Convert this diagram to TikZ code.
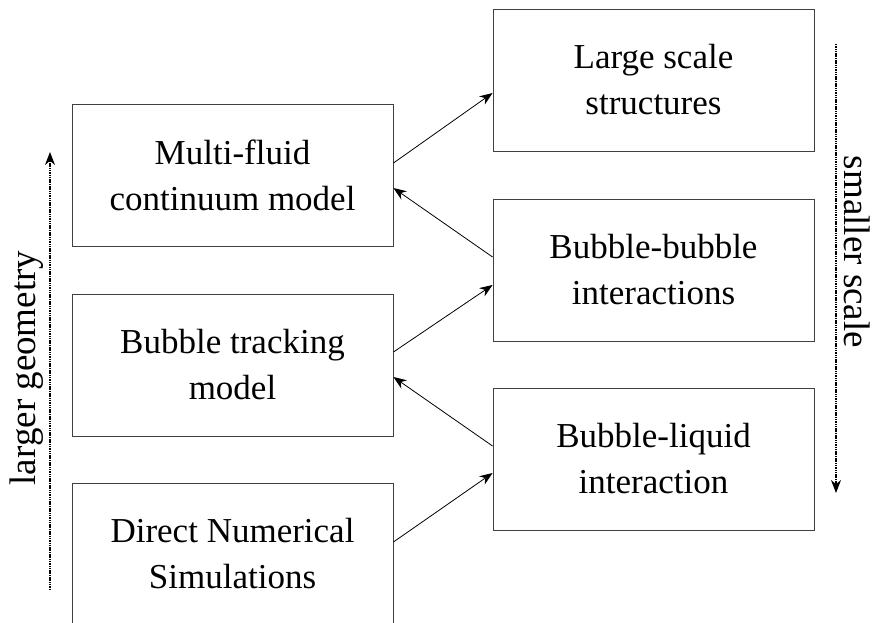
\documentclass[tikz,border=0pt]{standalone}
\usepackage{fontspec}
\setmainfont{Liberation Serif}
\usetikzlibrary{arrows.meta}
\begin{document}
\begin{tikzpicture}[x=1pt,y=-1pt,
  box/.style={draw=black!75,line width=0.9pt,minimum width=321pt,minimum height=142pt,
    align=center,inner sep=0pt,font=\fontsize{35}{46}\selectfont},
  conn/.style={line width=0.8pt,-{Stealth[length=13pt,width=10pt]}},
  side/.style={line width=1.1pt,dash pattern=on 1.5pt off 0.8pt,-{Stealth[length=13pt,width=10pt]}},
  sidelabel/.style={font=\fontsize{37}{44}\selectfont,inner sep=0pt}]
\useasboundingbox (0,0) rectangle (875,623);
\node[box] (mf) at (232.5,175) {Multi-fluid\\continuum model};
\node[box] (bt) at (232.5,365) {Bubble tracking\\model};
\node[box] (dns) at (232.5,554) {Direct Numerical\\Simulations};
\node[box] (ls) at (653.5,80) {Large scale\\structures};
\node[box] (bb) at (653.5,270) {Bubble-bubble\\interactions};
\node[box] (bl) at (653.5,459) {Bubble-liquid\\interaction};
\draw[conn] ([yshift=12pt]mf.east) -- ([yshift=-13pt]ls.west);
\draw[conn] ([yshift=13pt]bb.west) -- ([yshift=-13pt]mf.east);
\draw[conn] ([yshift=13pt]bt.east) -- ([yshift=-15pt]bb.west);
\draw[conn] ([yshift=13pt]bl.west) -- ([yshift=-12pt]bt.east);
\draw[conn] ([yshift=12pt]dns.east) -- ([yshift=-14pt]bl.west);
\coordinate (lb) at (50,590);
\coordinate (lt) at (50,152);
\draw[side] (lb) -- (lt);
\node[sidelabel,rotate=90] (lg) at (27,368) {larger geometry};
\coordinate (rt) at (836,44);
\coordinate (rb) at (836,493);
\draw[side] (rt) -- (rb);
\node[sidelabel,rotate=-90] (ss) at (857,252) {smaller scale};
\end{tikzpicture}
\end{document}
